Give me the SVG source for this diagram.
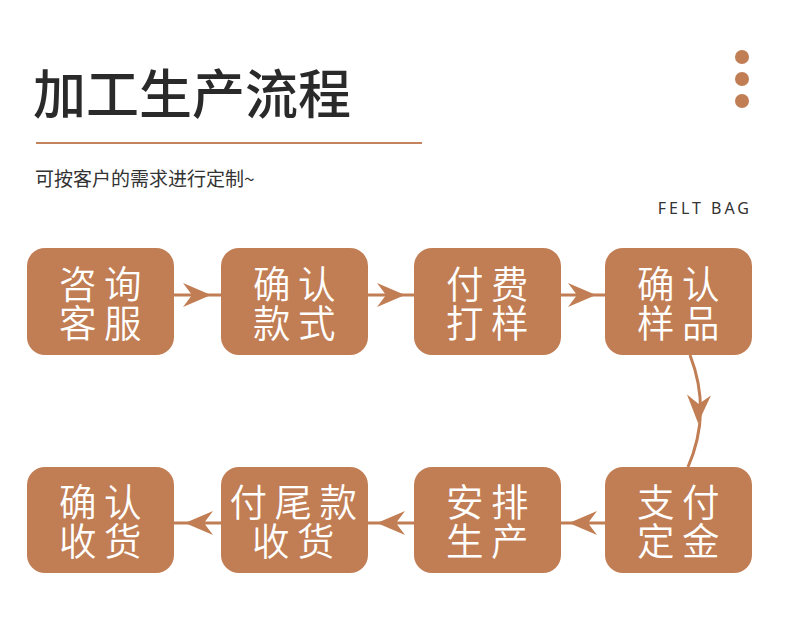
<svg xmlns="http://www.w3.org/2000/svg" xmlns:xlink="http://www.w3.org/1999/xlink" width="790" height="625" viewBox="0 0 790 625">
<style>
.box{fill:#C17D53;}
.lbl{font-family:"Noto Sans CJK SC","Noto Sans",sans-serif;font-size:37.5px;font-weight:350;fill:#ffffff;text-anchor:middle;letter-spacing:7.5px;}
.conn{fill:none;stroke:#C17D53;stroke-width:3;}
.ah{fill:#C17D53;}
.dot{fill:#C17D53;}
</style>
<defs>
<path id="ah" d="M0,0 L-28,-12 L-19,0 L-28,12 Z"/>
</defs>
<rect width="790" height="625" fill="#ffffff"/>
<text x="33" y="114" font-family="'Noto Sans CJK SC',sans-serif" font-size="53" font-weight="500" fill="#2a2a2a">加工生产流程</text>
<line x1="36" y1="143" x2="422" y2="143" stroke="#C4835A" stroke-width="2"/>
<text x="35" y="186" font-family="'Noto Sans CJK SC',sans-serif" font-size="19" fill="#333333">可按客户的需求进行定制~</text>
<text x="752" y="214" font-family="'Noto Sans','Open Sans',sans-serif" font-size="16" letter-spacing="3" fill="#333333" text-anchor="end">FELT BAG</text>
<g id="dots">
<circle class="dot" cx="742" cy="57" r="7"/>
<circle class="dot" cx="742" cy="79" r="7"/>
<circle class="dot" cx="742" cy="101" r="7"/>
</g>
<g id="connectors">
<line class="conn" x1="174" y1="295" x2="221" y2="295"/>
<use xlink:href="#ah" class="ah" transform="translate(211,295)"/>
<line class="conn" x1="368" y1="295" x2="414" y2="295"/>
<use xlink:href="#ah" class="ah" transform="translate(405,295)"/>
<line class="conn" x1="561" y1="295" x2="605" y2="295"/>
<use xlink:href="#ah" class="ah" transform="translate(596,295)"/>
<path class="conn" d="M690,355 Q712,412 688,467"/>
<use xlink:href="#ah" class="ah" transform="translate(698,423) rotate(92)"/>
<line class="conn" x1="561" y1="523" x2="605" y2="523"/>
<use xlink:href="#ah" class="ah" transform="translate(569,523) rotate(180)"/>
<line class="conn" x1="368" y1="523" x2="414" y2="523"/>
<use xlink:href="#ah" class="ah" transform="translate(377,523) rotate(180)"/>
<line class="conn" x1="174" y1="523" x2="221" y2="523"/>
<use xlink:href="#ah" class="ah" transform="translate(185,523) rotate(180)"/>
</g>
<g id="n1"><rect class="box" x="27" y="248" width="147" height="107" rx="18"/><text class="lbl"><tspan x="104" y="298">咨询</tspan><tspan x="104" y="337">客服</tspan></text></g>
<g id="n2"><rect class="box" x="221" y="248" width="147" height="107" rx="18"/><text class="lbl"><tspan x="298" y="298">确认</tspan><tspan x="298" y="337">款式</tspan></text></g>
<g id="n3"><rect class="box" x="414" y="248" width="147" height="107" rx="18"/><text class="lbl"><tspan x="491" y="298">付费</tspan><tspan x="491" y="337">打样</tspan></text></g>
<g id="n4"><rect class="box" x="605" y="248" width="147" height="107" rx="18"/><text class="lbl"><tspan x="682" y="298">确认</tspan><tspan x="682" y="337">样品</tspan></text></g>
<g id="n5"><rect class="box" x="605" y="467" width="147" height="106" rx="18"/><text class="lbl"><tspan x="682" y="516">支付</tspan><tspan x="682" y="555">定金</tspan></text></g>
<g id="n6"><rect class="box" x="414" y="467" width="147" height="106" rx="18"/><text class="lbl"><tspan x="491" y="516">安排</tspan><tspan x="491" y="555">生产</tspan></text></g>
<g id="n7"><rect class="box" x="221" y="467" width="147" height="106" rx="18"/><text class="lbl"><tspan x="297" y="516">付尾款</tspan><tspan x="297" y="555">收货</tspan></text></g>
<g id="n8"><rect class="box" x="27" y="467" width="147" height="106" rx="18"/><text class="lbl"><tspan x="104" y="516">确认</tspan><tspan x="104" y="555">收货</tspan></text></g>
</svg>
